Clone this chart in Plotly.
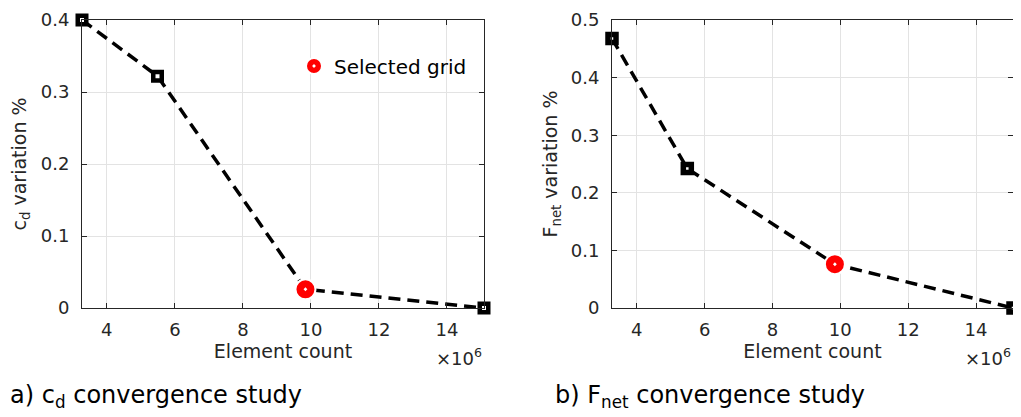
import plotly.graph_objects as go

# Data (element count in millions)
element_count = [3.27, 5.49, 9.84, 15.09]
cd_variation = [0.400, 0.322, 0.026, 0.0]
fnet_variation = [0.468, 0.242, 0.076, 0.0]
selected_idx = 2
x_ticks = [4, 6, 8, 10, 12, 14]
cd_ticks = [0, 0.1, 0.2, 0.3, 0.4]
fnet_ticks = [0, 0.1, 0.2, 0.3, 0.4, 0.5]

FONT = "DejaVu Sans"
AX = "#262626"
GRID = "#e3e3e3"

# page body has an 8px margin: figure is drawn at offset (8, 8)
OFF = 8
W, H = 1021 - OFF, 417 - OFF


def px(xr):
    return (xr - OFF) / W


def py(yr):
    return 1 - (yr - OFF) / H


fig = go.Figure()


def add_panel(xa, ya, yvals, sq_size, sq_lw, show_legend):
    fig.add_trace(go.Scatter(
        x=element_count, y=yvals, xaxis=xa, yaxis=ya, mode="lines+markers",
        line=dict(color="black", width=3.5, dash="12px,7px"),
        marker=dict(symbol="square", size=sq_size, color="white",
                    line=dict(color="black", width=sq_lw)),
        cliponaxis=False, showlegend=False, hoverinfo="skip"))
    fig.add_trace(go.Scatter(
        x=[element_count[selected_idx]], y=[yvals[selected_idx]], xaxis=xa, yaxis=ya,
        mode="markers", name="Selected grid",
        marker=dict(symbol="circle-dot", size=20, color="#ff0000",
                    line=dict(color="white", width=2)),
        cliponaxis=False, showlegend=show_legend))


add_panel("x", "y", cd_variation, 8.5, 4.5, True)
add_panel("x2", "y2", fnet_variation, 8, 5.5, False)

xrange = [min(element_count), max(element_count)]


def xaxis_style(domain, anchor):
    return dict(domain=domain, anchor=anchor, range=xrange, tickvals=x_ticks,
                ticks="inside", ticklen=5, tickcolor=AX, showline=True, linecolor=AX,
                linewidth=1, mirror="ticks", showgrid=True, gridcolor=GRID, zeroline=False,
                tickfont=dict(family=FONT, size=18, color=AX), ticklabelstandoff=5,
                title=dict(text="Element count", font=dict(family=FONT, size=19, color=AX),
                           standoff=2))


def yaxis_style(domain, anchor, rng, tv, title, standoff):
    return dict(domain=domain, anchor=anchor, range=rng, tickvals=tv,
                ticks="inside", ticklen=5, tickcolor=AX, showline=True, linecolor=AX,
                linewidth=1, mirror="ticks", showgrid=True, gridcolor=GRID, zeroline=False,
                tickfont=dict(family=FONT, size=18, color=AX), ticklabelstandoff=8,
                title=dict(text=title, font=dict(family=FONT, size=19, color=AX),
                           standoff=standoff))


yd = [py(308), py(20)]
fig.update_layout(
    width=W, height=H, margin=dict(l=0, r=0, t=0, b=0, autoexpand=False),
    paper_bgcolor="white", plot_bgcolor="white",
    font=dict(family=FONT, color="black"),
    xaxis=xaxis_style([px(82), px(484)], "y"),
    yaxis=yaxis_style(yd, "x", [0, 0.4], cd_ticks, "c<sub>d</sub> variation %", 10),
    xaxis2=xaxis_style([px(612), px(1013)], "y2"),
    yaxis2=yaxis_style(yd, "x2", [0, 0.5], fnet_ticks, "F<sub>net</sub> variation %", 8),
    legend=dict(x=px(294), y=py(66), xanchor="left", yanchor="middle",
                bgcolor="rgba(0,0,0,0)", font=dict(family=FONT, size=20, color="black")),
    annotations=[
        dict(text="×10<sup>6</sup>", x=px(484), y=py(357), xref="paper", yref="paper",
             xanchor="right", yanchor="middle", showarrow=False,
             font=dict(family=FONT, size=18, color=AX)),
        dict(text="×10<sup>6</sup>", x=px(1013), y=py(357), xref="paper", yref="paper",
             xanchor="right", yanchor="middle", showarrow=False,
             font=dict(family=FONT, size=18, color=AX)),
        dict(text="a) c<sub>d</sub> convergence study", x=px(8), y=py(396),
             xref="paper", yref="paper", xanchor="left", yanchor="middle", showarrow=False,
             font=dict(family=FONT, size=24, color="black")),
        dict(text="b) F<sub>net</sub> convergence study", x=px(553), y=py(396),
             xref="paper", yref="paper", xanchor="left", yanchor="middle", showarrow=False,
             font=dict(family=FONT, size=24, color="black")),
    ],
)

fig.write_html("out.html")
